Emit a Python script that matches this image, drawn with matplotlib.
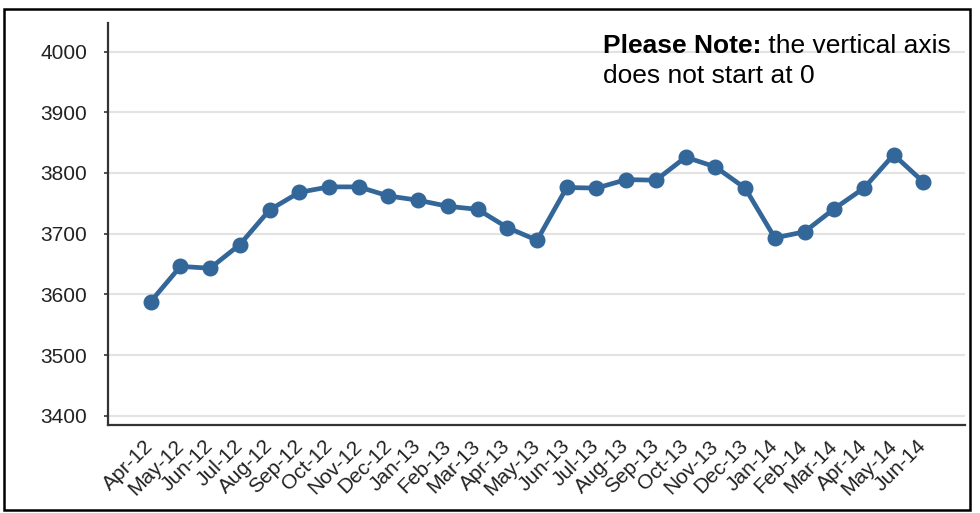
import matplotlib
matplotlib.use("Agg")
import matplotlib.pyplot as plt
import matplotlib.transforms as mtransforms
from matplotlib.patches import Rectangle

months = ["Apr-12", "May-12", "Jun-12", "Jul-12", "Aug-12", "Sep-12", "Oct-12", "Nov-12",
          "Dec-12", "Jan-13", "Feb-13", "Mar-13", "Apr-13", "May-13", "Jun-13", "Jul-13",
          "Aug-13", "Sep-13", "Oct-13", "Nov-13", "Dec-13", "Jan-14", "Feb-14", "Mar-14",
          "Apr-14", "May-14", "Jun-14"]
values = [3588, 3646, 3643, 3682, 3739, 3768, 3777, 3777,
          3762, 3755, 3745, 3740, 3710, 3689, 3776, 3775,
          3789, 3788, 3826, 3810, 3775, 3693, 3703, 3741,
          3775, 3830, 3785]
yticks = [3400, 3500, 3600, 3700, 3800, 3900, 4000]

plt.rcParams['font.family'] = ['Liberation Sans', 'DejaVu Sans']

W, H = 980, 513
fig = plt.figure(figsize=(W / 100, H / 100), dpi=100)
ax = fig.add_axes([108 / W, 1 - 425 / H, (965 - 108) / W, (425 - 23) / H])

x = list(range(len(months)))
ax.plot(x, values, color='#336699', lw=3.4, marker='o', markersize=10.5,
        markerfacecolor='#336699', markeredgecolor='#336699', zorder=3,
        solid_joinstyle='round')

ax.set_xlim(-1.437, 27.40)
ax.set_ylim(3384.7, 4047)
ax.set_yticks(yticks)
ax.set_yticklabels([str(v) for v in yticks], fontsize=15, color='#222222')
ax.set_xticks(x)
ax.set_xticklabels(months, rotation=45, ha='right', va='center',
                   rotation_mode='anchor', fontsize=15, color='#222222')
offset = mtransforms.ScaledTranslation(6 / 100, 0, fig.dpi_scale_trans)
for lbl in ax.get_xticklabels():
    lbl.set_transform(lbl.get_transform() + offset)

ax.grid(axis='y', color='#e3e3e3', lw=1.5, zorder=0)
ax.set_axisbelow(True)
for s in ['top', 'right']:
    ax.spines[s].set_visible(False)
for s in ['left', 'bottom']:
    ax.spines[s].set_color('#333333')
    ax.spines[s].set_linewidth(1.6)
ax.tick_params(axis='y', length=3, width=1.2, color='#333333', pad=12)
ax.tick_params(axis='x', length=0, pad=13)

# note
t1 = fig.text(603 / W, 1 - 53 / H, "Please Note:", fontsize=19, fontweight='bold',
              va='baseline', ha='left', color='#000000')
fig.text(603 / W, 1 - 83 / H, "does not start at 0", fontsize=19,
         va='baseline', ha='left', color='#000000')
ax.annotate(" the vertical axis", xy=(1, 0), xycoords=t1, va='bottom', ha='left',
            fontsize=19, color='#000000', annotation_clip=False)

# outer frame
fig.patches.append(Rectangle((4 / W, 1 - 510 / H), (970 - 4) / W, (510 - 9) / H,
                             transform=fig.transFigure, fill=False,
                             edgecolor='black', lw=1.8))

fig.savefig("out.png", dpi=100)
